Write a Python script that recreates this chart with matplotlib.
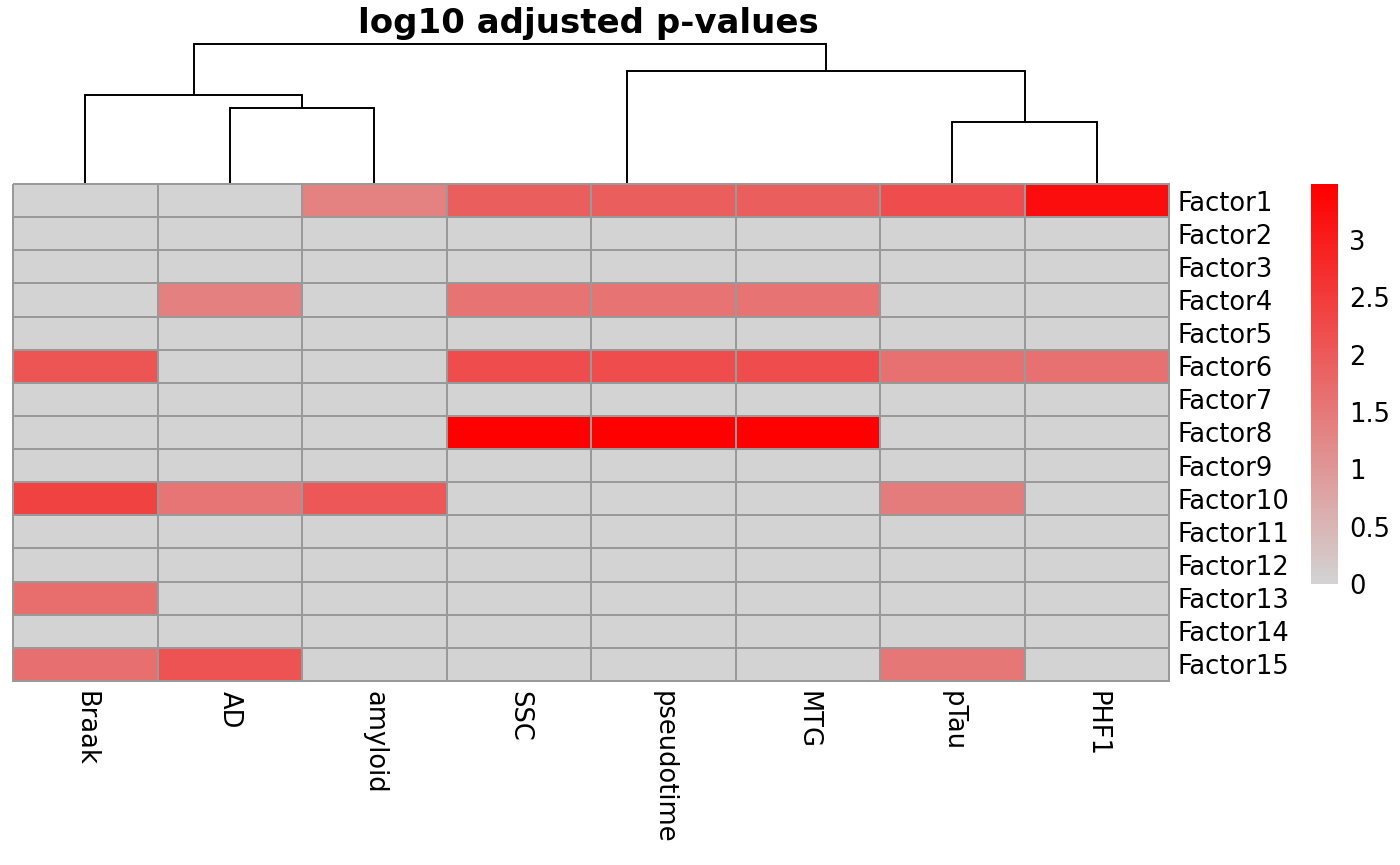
import numpy as np
import matplotlib
matplotlib.use("Agg")
import matplotlib.pyplot as plt
from matplotlib.colors import ListedColormap, to_rgb

# column order as shown (after clustering)
traits = ["Braak", "AD", "amyloid", "SSC", "pseudotime", "MTG", "pTau", "PHF1"]
factors = ["Factor%d" % i for i in range(1, 16)]

# log10 adjusted p-values, one list per factor (0 = not significant)
f1 = [0, 0, 1.36, 1.92, 1.92, 1.92, 2.20, 3.28]
f2 = [0, 0, 0, 0, 0, 0, 0, 0]
f3 = [0, 0, 0, 0, 0, 0, 0, 0]
f4 = [0, 1.38, 0, 1.60, 1.60, 1.60, 0, 0]
f5 = [0, 0, 0, 0, 0, 0, 0, 0]
f6 = [2.07, 0, 0, 2.20, 2.20, 2.20, 1.63, 1.63]
f7 = [0, 0, 0, 0, 0, 0, 0, 0]
f8 = [0, 0, 0, 3.49, 3.49, 3.49, 0, 0]
f9 = [0, 0, 0, 0, 0, 0, 0, 0]
f10 = [2.40, 1.55, 2.04, 0, 0, 0, 1.45, 0]
f11 = [0, 0, 0, 0, 0, 0, 0, 0]
f12 = [0, 0, 0, 0, 0, 0, 0, 0]
f13 = [1.69, 0, 0, 0, 0, 0, 0, 0]
f14 = [0, 0, 0, 0, 0, 0, 0, 0]
f15 = [1.66, 2.12, 0, 0, 0, 0, 1.53, 0]

# column dendrogram: (left, right, height); ids >= 8 are earlier merges
merges = [(4, 5, 0.0), (3, 8, 0.0), (1, 2, 2.89), (6, 7, 2.36),
          (0, 10, 3.39), (9, 11, 4.30), (12, 13, 5.33)]

cbar_ticks = [0, 0.5, 1, 1.5, 2, 2.5, 3]

data = np.array([f1, f2, f3, f4, f5, f6, f7, f8, f9, f10, f11, f12, f13, f14, f15])

# lightgrey -> red in 100 steps, like colorRampPalette
lo = np.array(to_rgb("lightgrey"))
hi = np.array(to_rgb("red"))
cmap = ListedColormap([lo + (hi - lo) * t for t in np.linspace(0, 1, 100)])

W, H = 1400, 865
fig = plt.figure(figsize=(W / 100, H / 100), dpi=100)

def box(x0, y0, x1, y1):
    # pixel box (top-left origin) -> figure fraction rect
    return [x0 / W, 1 - y1 / H, (x1 - x0) / W, (y1 - y0) / H]

ax_d = fig.add_axes(box(13, 44, 1169, 184))
ax = fig.add_axes(box(13, 184, 1169, 681))
cax = fig.add_axes(box(1311, 184, 1338, 584))
ax.set_zorder(3)

mesh = ax.pcolormesh(np.arange(len(traits) + 1), np.arange(len(factors) + 1), data,
                     cmap=cmap, vmin=0, vmax=data.max(),
                     edgecolors="#999999", linewidth=1.4)
mesh.set_clip_on(False)
ax.set_xlim(0, len(traits))
ax.set_ylim(len(factors), 0)
for s in ax.spines.values():
    s.set_visible(False)

ax.set_xticks(np.arange(len(traits)) + 0.5)
ax.set_xticklabels(traits, rotation=270, fontsize=18.5)
ax.set_yticks(np.arange(len(factors)) + 0.5)
ax.set_yticklabels(factors, fontsize=18.5)
ax.yaxis.tick_right()
ax.tick_params(axis="x", length=0, pad=7)
ax.tick_params(axis="y", length=0, pad=6)

# dendrogram
xpos = {i: i + 0.5 for i in range(len(traits))}
hgt = {i: 0.0 for i in range(len(traits))}
for k, (a, b, h) in enumerate(merges):
    xa, xb = xpos[a], xpos[b]
    ax_d.plot([xa, xa, xb, xb], [hgt[a], h, h, hgt[b]], color="black",
              lw=1.4, clip_on=False, solid_joinstyle="miter")
    xpos[len(traits) + k] = (xa + xb) / 2
    hgt[len(traits) + k] = h
ax_d.set_xlim(0, len(traits))
ax_d.set_ylim(0, merges[-1][2])
ax_d.axis("off")

cb = fig.colorbar(mesh, cax=cax)
cb.outline.set_visible(False)
cb.set_ticks(cbar_ticks)
cb.set_ticklabels(["%g" % t for t in cbar_ticks])
cax.tick_params(length=0, pad=8, labelsize=18.5)

fig.text(588 / W, 1 - 23 / H, "log10 adjusted p-values", ha="center", va="center",
         fontsize=24.5, fontweight="bold")

fig.savefig("out.png", dpi=100)
